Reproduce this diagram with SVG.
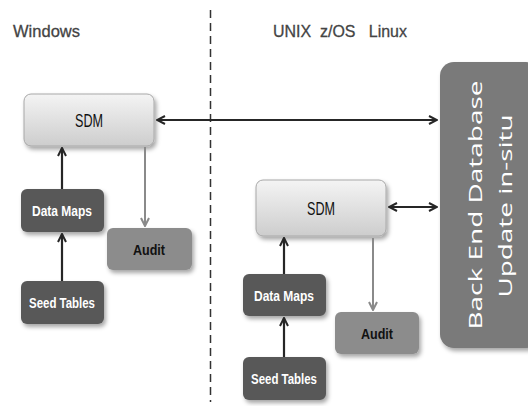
<svg xmlns="http://www.w3.org/2000/svg" width="528" height="406" viewBox="0 0 528 406">
<defs>
<linearGradient id="sdmGrad" x1="0" y1="0" x2="0" y2="1">
<stop offset="0" stop-color="#f4f4f4"/>
<stop offset="1" stop-color="#cdcdcd"/>
</linearGradient>
<filter id="sh" x="-20%" y="-20%" width="150%" height="160%">
<feDropShadow dx="2" dy="3" stdDeviation="2" flood-color="#000" flood-opacity="0.35"/>
</filter>
<marker id="ah" viewBox="0 0 10 10" refX="9" refY="5" markerWidth="10" markerHeight="10" markerUnits="userSpaceOnUse" orient="auto-start-reverse">
<path d="M1,1 L9,5 L1,9" fill="none" stroke="#262626" stroke-width="2"/>
</marker>
<marker id="ahg" viewBox="0 0 10 10" refX="9" refY="5" markerWidth="10" markerHeight="10" markerUnits="userSpaceOnUse" orient="auto">
<path d="M1,1 L9,5 L1,9" fill="none" stroke="#8a8a8a" stroke-width="2"/>
</marker>
</defs>
<style>
.hdr{font-family:"Liberation Sans",Arial,sans-serif;font-size:17px;fill:#444;stroke:#444;stroke-width:0.3}
.sdm rect{fill:url(#sdmGrad);stroke:#a8a8a8;stroke-width:1;filter:url(#sh)}
.sdm text{font-family:"Liberation Sans",Arial,sans-serif;font-size:19px;fill:#111;text-anchor:middle}
.dark rect{fill:#585858;filter:url(#sh)}
.dark text{font-family:"Liberation Sans",Arial,sans-serif;font-size:15px;font-weight:bold;fill:#fff;text-anchor:middle}
.audit rect{fill:#8c8c8c;filter:url(#sh)}
.audit text{font-family:"Liberation Sans",Arial,sans-serif;font-size:15px;font-weight:bold;fill:#111;text-anchor:middle}
.be rect{fill:#7a7a7a;filter:url(#sh)}
.be text{font-family:"Open Sans","DejaVu Sans",sans-serif;font-size:19px;fill:#fff;text-anchor:middle}
.c{stroke:#262626;stroke-width:2.2;fill:none}
.g{stroke:#8a8a8a;stroke-width:2;fill:none}
</style>
<rect width="528" height="406" fill="#fff"/>
<text class="hdr" x="13" y="37" textLength="67" lengthAdjust="spacingAndGlyphs">Windows</text>
<text class="hdr" x="273" y="37" textLength="134" lengthAdjust="spacingAndGlyphs" xml:space="preserve">UNIX  z/OS   Linux</text>
<line x1="210.5" y1="10" x2="210.5" y2="402" stroke="#333" stroke-width="1.5" stroke-dasharray="8,5"/>
<g id="sdm-win" class="sdm"><rect x="24" y="94" width="130" height="52" rx="7"/><text x="89" y="127" textLength="28" lengthAdjust="spacingAndGlyphs">SDM</text></g>
<g id="datamaps-win" class="dark"><rect x="21" y="189" width="83" height="43" rx="6"/><text x="62" y="216" textLength="60" lengthAdjust="spacingAndGlyphs">Data Maps</text></g>
<g id="seed-win" class="dark"><rect x="21" y="281" width="83" height="43" rx="6"/><text x="62" y="308" textLength="66" lengthAdjust="spacingAndGlyphs">Seed Tables</text></g>
<g id="audit-win" class="audit"><rect x="107" y="228" width="85" height="42" rx="6"/><text x="149" y="255" textLength="32" lengthAdjust="spacingAndGlyphs">Audit</text></g>
<g id="sdm-unix" class="sdm"><rect x="256" y="180" width="130" height="56" rx="7"/><text x="321" y="215" textLength="28" lengthAdjust="spacingAndGlyphs">SDM</text></g>
<g id="datamaps-unix" class="dark"><rect x="243" y="274" width="83" height="42" rx="6"/><text x="284" y="301" textLength="60" lengthAdjust="spacingAndGlyphs">Data Maps</text></g>
<g id="seed-unix" class="dark"><rect x="243" y="357" width="83" height="43" rx="6"/><text x="284" y="384" textLength="66" lengthAdjust="spacingAndGlyphs">Seed Tables</text></g>
<g id="audit-unix" class="audit"><rect x="335" y="312" width="84" height="42" rx="6"/><text x="377" y="339" textLength="32" lengthAdjust="spacingAndGlyphs">Audit</text></g>
<g id="backend" class="be"><rect x="440" y="62" width="100" height="286" rx="14"/>
<text transform="translate(482,205) rotate(-90)" textLength="249" lengthAdjust="spacingAndGlyphs">Back End Database</text>
<text transform="translate(512,206) rotate(-90)" textLength="183" lengthAdjust="spacingAndGlyphs">Update in-situ</text></g>
<g id="connectors">
<line class="c" x1="157" y1="120" x2="437" y2="120" marker-start="url(#ah)" marker-end="url(#ah)"/>
<line class="c" x1="389" y1="207" x2="437" y2="207" marker-start="url(#ah)" marker-end="url(#ah)"/>
<line class="c" x1="62" y1="189" x2="62" y2="148" marker-end="url(#ah)"/>
<line class="c" x1="62" y1="281" x2="62" y2="234" marker-end="url(#ah)"/>
<line class="g" x1="145" y1="147" x2="145" y2="226" marker-end="url(#ahg)"/>
<line class="c" x1="284" y1="274" x2="284" y2="238" marker-end="url(#ah)"/>
<line class="c" x1="284" y1="357" x2="284" y2="318" marker-end="url(#ah)"/>
<line class="g" x1="373" y1="238" x2="373" y2="310" marker-end="url(#ahg)"/>
</g>
</svg>
